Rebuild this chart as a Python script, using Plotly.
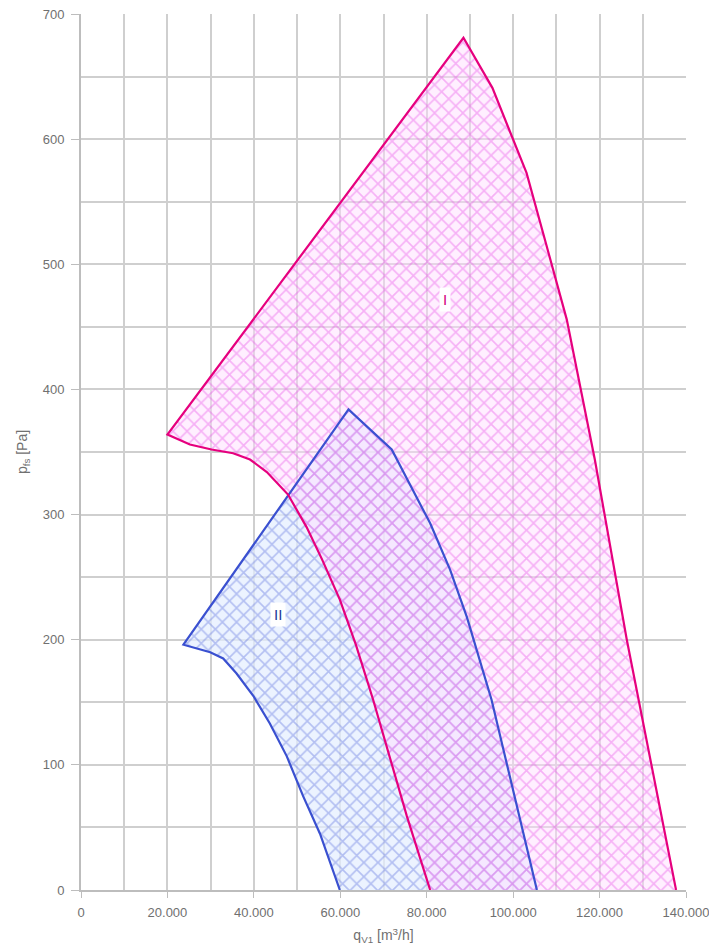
import plotly.graph_objects as go

# Curve I (outline order: right edge bottom->peak, left point, lower curve -> axis)
I_q = [137700, 126300, 118900, 112400, 107800, 103100, 95200, 88500,
       20000, 25200, 30200, 35200, 39100, 43000, 47900, 52200, 55800,
       59900, 63600, 67600, 75400, 80800]
I_p = [0, 200, 344, 456, 514, 573, 641, 681,
       364, 356, 352, 349, 344, 334, 316, 290, 264,
       232, 196, 152, 59, 0]

# Curve II
II_q = [105500, 95000, 89300, 85400, 80800, 71900, 61900,
        23700, 29900, 32900, 36000, 39900, 43700, 47600, 51400, 55300, 59900]
II_p = [0, 152, 218, 256, 293, 352, 384,
        196, 190, 185, 173, 155, 133, 107, 75, 45, 0]

x_tickvals = [0, 20000, 40000, 60000, 80000, 100000, 120000, 140000]
x_ticktext = ["0", "20.000", "40.000", "60.000", "80.000", "100.000", "120.000", "140.000"]
y_tickvals = [0, 100, 200, 300, 400, 500, 600, 700]

fig = go.Figure()

# fills first
fig.add_trace(go.Scatter(
    x=II_q, y=II_p, mode="none", fill="toself",
    fillcolor="rgba(220,232,255,0.7)",
    fillpattern=dict(shape="x", fgcolor="rgba(85,105,220,0.75)",
                     bgcolor="rgba(228,238,255,0.7)", size=10, solidity=0.3),
    hoverinfo="skip", showlegend=False))
fig.add_trace(go.Scatter(
    x=I_q, y=I_p, mode="none", fill="toself",
    fillcolor="rgba(255,215,255,0.45)",
    fillpattern=dict(shape="x", fgcolor="rgba(230,70,230,0.75)",
                     bgcolor="rgba(255,220,255,0.45)", size=10, solidity=0.3),
    hoverinfo="skip", showlegend=False))

# outlines
fig.add_trace(go.Scatter(
    x=II_q, y=II_p, mode="lines",
    line=dict(color="#3a50d0", width=2.2), showlegend=False))
fig.add_trace(go.Scatter(
    x=I_q, y=I_p, mode="lines",
    line=dict(color="#e6007e", width=2.2), showlegend=False))

fig.add_annotation(x=84200, y=472, text="I", showarrow=False,
                   font=dict(family="Liberation Sans", size=15, color="#d4007a"),
                   bgcolor="white", borderpad=3)
fig.add_annotation(x=45600, y=220, text="II", showarrow=False,
                   font=dict(family="Liberation Sans", size=15, color="#1a3a9a"),
                   bgcolor="white", borderpad=3)

tick_font = dict(family="Liberation Sans", size=13, color="#707070")
title_font = dict(family="Liberation Sans", size=14, color="#707070")

# page body has an 8px default margin, so offsets compensate for it
fig.update_layout(
    width=717, height=945,
    margin=dict(l=73, r=39, t=6, b=63),
    paper_bgcolor="white", plot_bgcolor="white",
    font=tick_font,
    xaxis=dict(
        range=[0, 140000], tickvals=x_tickvals, ticktext=x_ticktext,
        automargin=False, ticklabeloverflow="allow",
        showgrid=True, gridcolor="#cfcfcf", gridwidth=1.5,
        minor=dict(dtick=10000, tick0=0, showgrid=True, gridcolor="#cfcfcf", gridwidth=1.5),
        showline=True, linecolor="#bdbdbd", linewidth=2,
        ticks="outside", ticklen=6, tickcolor="#bdbdbd",
        zeroline=False, tickfont=tick_font, ticklabelstandoff=3,
        title=dict(text="q<sub>V1</sub> [m<sup>3</sup>/h]", font=title_font, standoff=12),
    ),
    yaxis=dict(
        range=[0, 700], tickvals=y_tickvals,
        automargin=False, ticklabeloverflow="allow",
        showgrid=True, gridcolor="#cfcfcf", gridwidth=1.5,
        minor=dict(dtick=50, tick0=0, showgrid=True, gridcolor="#cfcfcf", gridwidth=1.5),
        showline=True, linecolor="#bdbdbd", linewidth=2,
        ticks="outside", ticklen=8, tickcolor="#bdbdbd",
        zeroline=False, tickfont=tick_font, ticklabelstandoff=4,
        title=dict(text="p<sub>fs</sub> [Pa]", font=title_font, standoff=12),
    ),
)

fig.write_html("out.html")
